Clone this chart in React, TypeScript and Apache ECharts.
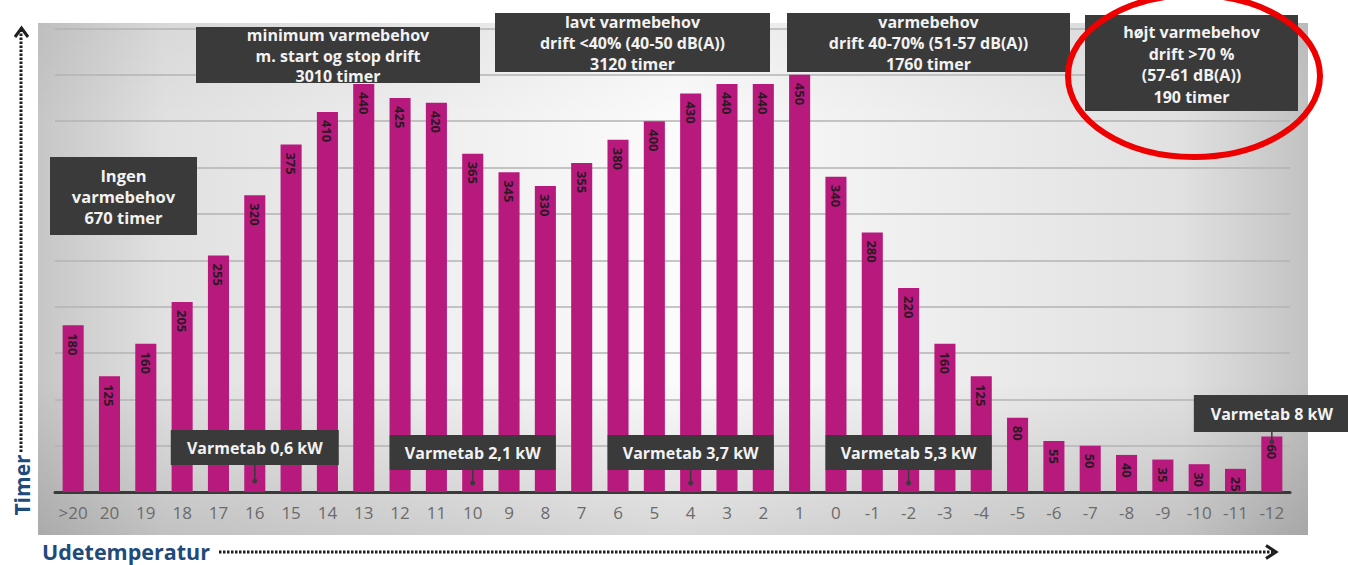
import React, { useEffect, useRef } from "react";
import * as echarts from "echarts";

// ---- data ----
const categories = [
  ">20", "20", "19", "18", "17", "16", "15", "14", "13", "12", "11", "10", "9", "8", "7", "6", "5", "4", "3", "2", "1",
  "0", "-1", "-2", "-3", "-4", "-5", "-6", "-7", "-8", "-9", "-10", "-11", "-12",
];
const hours = [
  180, 125, 160, 205, 255, 320, 375, 410, 440, 425, 420, 365, 345, 330, 355, 380, 400, 430, 440, 440, 450,
  340, 280, 220, 160, 125, 80, 55, 50, 40, 35, 30, 25, 60,
];
const yMin = 0;
const yMax = 500;
const yInterval = 50;

const yTitle = "Timer";
const xTitle = "Udetemperatur";

const phaseTexts = [
  ["Ingen", "varmebehov", "670 timer"],
  ["minimum varmebehov", "m. start og stop drift", "3010 timer"],
  ["lavt varmebehov", "drift <40% (40-50 dB(A))", "3120 timer"],
  ["varmebehov", "drift 40-70% (51-57 dB(A))", "1760 timer"],
  ["højt varmebehov", "drift >70 %", "(57-61 dB(A))", "190 timer"],
];
const heatLossTexts = ["Varmetab 0,6 kW", "Varmetab 2,1 kW", "Varmetab 3,7 kW", "Varmetab 5,3 kW", "Varmetab 8 kW"];
const heatLossAt = ["16", "10", "4", "-2", "-12"];

// ---- layout (pixels) ----
const W = 1348;
const H = 565;
const FONT = "'Open Sans', 'Noto Sans', sans-serif";
const BOX = "#3a3a3a";
const BAR = "#b8197d";
const TITLE = "#1f4a7c";

const phaseLayout = [
  { x: 50, y: 157, w: 147, h: 78, fs: 16.5, lh: 21, ty: 175 },
  { x: 196, y: 27, w: 284, h: 56, fs: 16, lh: 20.5, ty: 35 },
  { x: 495, y: 13, w: 275, h: 59, fs: 16, lh: 21, ty: 22 },
  { x: 787, y: 13, w: 283, h: 59, fs: 16, lh: 21, ty: 22 },
  { x: 1085, y: 15, w: 213, h: 96, fs: 16, lh: 21.5, ty: 32 },
];
const heatLayout = [
  { y: 430, h: 35, w: 168, tip: 481 },
  { y: 435, h: 35, w: 166, tip: 483 },
  { y: 435, h: 35, w: 166, tip: 483 },
  { y: 435, h: 35, w: 166, tip: 483 },
  { y: 395, h: 37, w: 156, tip: 442 },
];

export default function App() {
  const ref = useRef<HTMLDivElement>(null);

  useEffect(() => {
    document.body.style.margin = "0";
    const chart = echarts.init(ref.current!, undefined, { renderer: "svg" });

    const base: any = {
      animation: false,
      grid: { left: 55, right: 58, top: 28.5, bottom: 73, containLabel: false },
      xAxis: {
        type: "category",
        data: categories,
        axisLine: { show: true, lineStyle: { color: "#3a3a3a", width: 3 } },
        axisTick: { show: false },
        axisLabel: { interval: 0, color: "#6b6b6b", fontSize: 17, fontFamily: FONT, margin: 12 },
        splitLine: { show: false },
      },
      yAxis: {
        type: "value",
        min: yMin,
        max: yMax,
        interval: yInterval,
        axisLine: { show: false },
        axisTick: { show: false },
        axisLabel: { show: false },
        splitLine: { show: true, lineStyle: { color: "#b3b3b3", width: 1.5 } },
      },
      series: [
        {
          type: "bar",
          data: hours,
          barCategoryGap: "42%",
          itemStyle: { color: BAR },
          z: 3,
          label: {
            show: true,
            position: "insideTop",
            rotate: -90,
            align: "left",
            verticalAlign: "middle",
            distance: 8,
            color: "#2b1a24",
            fontSize: 13,
            fontWeight: "bold",
            fontFamily: FONT,
          },
        },
      ],
    };
    chart.setOption(base);

    const els: any[] = [];
    // panel background
    els.push({
      type: "rect",
      z: -100,
      silent: true,
      shape: { x: 38, y: 23, width: 1270, height: 512 },
      style: {
        fill: new echarts.graphic.LinearGradient(0, 0, 1, 0, [
          { offset: 0, color: "#c6c6c6" },
          { offset: 0.1, color: "#e1e1e1" },
          { offset: 0.5, color: "#fbfbfb" },
          { offset: 0.9, color: "#e1e1e1" },
          { offset: 1, color: "#c2c2c2" },
        ]),
      },
    });
    els.push({
      type: "rect",
      z: -99,
      silent: true,
      shape: { x: 38, y: 23, width: 1270, height: 512 },
      style: {
        fill: new echarts.graphic.LinearGradient(0, 0, 0, 1, [
          { offset: 0, color: "rgba(0,0,0,0.04)" },
          { offset: 0.2, color: "rgba(0,0,0,0)" },
          { offset: 0.7, color: "rgba(0,0,0,0)" },
          { offset: 1, color: "rgba(0,0,0,0.14)" },
        ]),
      },
    });

    // phase boxes
    phaseTexts.forEach((lines, i) => {
      const L = phaseLayout[i];
      els.push({
        type: "rect",
        z: 100,
        shape: { x: L.x, y: L.y, width: L.w, height: L.h },
        style: { fill: BOX },
      });
      lines.forEach((t, j) => {
        els.push({
          type: "text",
          z: 101,
          style: {
            text: t,
            x: L.x + L.w / 2,
            y: L.ty + j * L.lh,
            align: "center",
            verticalAlign: "middle",
            textAlign: "center",
            textVerticalAlign: "middle",
            fill: "#f2f2f2",
            font: `bold ${L.fs}px ${FONT}`,
          },
        });
      });
    });

    // heat loss boxes centered on their categories
    heatLossTexts.forEach((t, i) => {
      const L = heatLayout[i];
      const cx = chart.convertToPixel({ xAxisIndex: 0 }, heatLossAt[i]) as number;
      els.push({
        type: "rect",
        z: 100,
        shape: { x: cx - L.w / 2, y: L.y, width: L.w, height: L.h },
        style: { fill: BOX },
      });
      els.push({
        type: "text",
        z: 101,
        style: {
          text: t,
          x: cx,
          y: L.y + L.h / 2,
          align: "center",
          verticalAlign: "middle",
          textAlign: "center",
          textVerticalAlign: "middle",
          fill: "#f2f2f2",
          font: `bold 16px ${FONT}`,
        },
      });
      els.push({
        type: "line",
        z: 101,
        shape: { x1: cx, y1: L.y + L.h, x2: cx, y2: L.tip },
        style: { stroke: BOX, lineWidth: 1.5 },
      });
      els.push({
        type: "circle",
        z: 101,
        shape: { cx, cy: L.tip, r: 2.5 },
        style: { fill: BOX },
      });
    });

    // red ellipse
    els.push({
      type: "ellipse",
      z: 110,
      shape: { cx: 1194, cy: 76, rx: 126, ry: 81 },
      style: { fill: "none", stroke: "#ee0000", lineWidth: 6 },
    });

    // axis titles with dotted arrows
    els.push({
      type: "text",
      z: 50,
      x: 22,
      y: 485,
      rotation: Math.PI / 2,
      style: {
        text: yTitle,
        x: 0,
        y: 0,
        align: "center",
        verticalAlign: "middle",
        textAlign: "center",
        textVerticalAlign: "middle",
        fill: TITLE,
        font: `bold 21px ${FONT}`,
      },
    });
    els.push({
      type: "line",
      z: 50,
      shape: { x1: 21, y1: 452, x2: 21, y2: 30 },
      style: { stroke: "#1e1e1e", lineWidth: 3, lineDash: [2.5, 1.5] },
    });
    els.push({
      type: "polyline",
      z: 50,
      shape: { points: [[15, 37], [21.5, 28], [28, 37]] },
      style: { stroke: "#1e1e1e", lineWidth: 3, fill: "none" },
    });
    els.push({
      type: "text",
      z: 50,
      style: {
        text: xTitle,
        x: 42,
        y: 551,
        align: "left",
        verticalAlign: "middle",
        textAlign: "left",
        textVerticalAlign: "middle",
        fill: TITLE,
        font: `bold 21.5px ${FONT}`,
      },
    });
    els.push({
      type: "line",
      z: 50,
      shape: { x1: 219, y1: 552, x2: 1273, y2: 552 },
      style: { stroke: "#1e1e1e", lineWidth: 3, lineDash: [2.5, 1.5] },
    });
    els.push({
      type: "polyline",
      z: 50,
      shape: { points: [[1266, 545.5], [1276, 552], [1266, 558.5]] },
      style: { stroke: "#1e1e1e", lineWidth: 3, fill: "none" },
    });

    chart.setOption({ graphic: { elements: els } });

    return () => chart.dispose();
  }, []);

  return (
    <div
      ref={ref}
      style={{ position: "fixed", left: 0, top: 0, width: W, height: H, background: "#ffffff" }}
    />
  );
}
